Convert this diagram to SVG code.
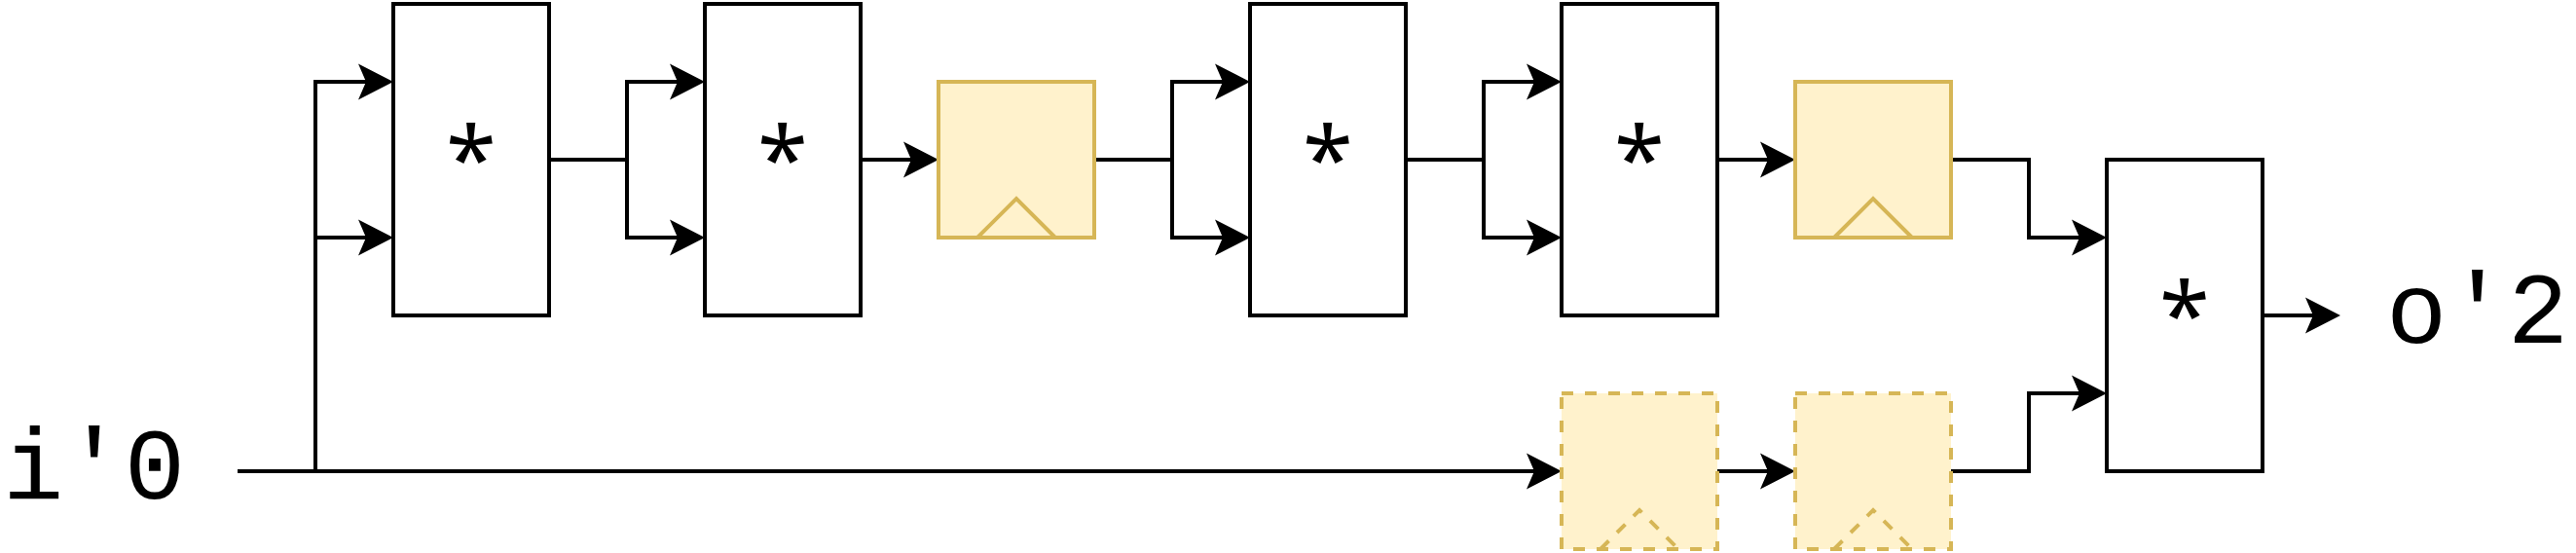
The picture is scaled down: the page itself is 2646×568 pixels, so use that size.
<svg xmlns="http://www.w3.org/2000/svg" width="2646" height="568" viewBox="0 0 2646 568">
<style>
.op{fill:#ffffff;stroke:#000000;stroke-width:4}
.reg{fill:#fff2cc;stroke:#d6b656;stroke-width:4}
.regd{fill:#fff2cc;stroke:#d6b656;stroke-width:4;stroke-dasharray:12 12}
.clk{fill:none;stroke:#d6b656;stroke-width:4}
.clkd{fill:none;stroke:#d6b656;stroke-width:4;stroke-dasharray:12 12}
.wa{fill:none;stroke:#000000;stroke-width:4;marker-end:url(#arr)}
.star{font-family:"Noto Sans",sans-serif;font-size:94px;text-anchor:middle;fill:#000}
.lbl{font-family:"Liberation Mono",monospace;font-size:104px;fill:#000}
</style>
<defs>
<marker id="arr" markerUnits="userSpaceOnUse" markerWidth="40" markerHeight="40" refX="8" refY="18.5" orient="auto" overflow="visible">
<path d="M0,0 L36,18.5 L0,37 L8,18.5 Z" fill="#000"/>
</marker>
</defs>
<g id="connectors">
<path class="wa" d="M244,484 H1576"/>
<path class="wa" d="M324,484 V84 H376"/>
<path class="wa" d="M324,244 H376"/>
<path class="wa" d="M564,164 H644 V84 H696"/>
<path class="wa" d="M644,164 V244 H696"/>
<path class="wa" d="M884,164 H936"/>
<path class="wa" d="M1124,164 H1204 V84 H1256"/>
<path class="wa" d="M1204,164 V244 H1256"/>
<path class="wa" d="M1444,164 H1524 V84 H1576"/>
<path class="wa" d="M1524,164 V244 H1576"/>
<path class="wa" d="M1764,164 H1816"/>
<path class="wa" d="M2004,164 H2084 V244 H2136"/>
<path class="wa" d="M1764,484 H1816"/>
<path class="wa" d="M2004,484 H2084 V404 H2136"/>
<path class="wa" d="M2324,324 H2376"/>
</g>
<g id="mul1"><rect class="op" x="404" y="4" width="160" height="320"/><text class="star" x="484" y="197">*</text></g>
<g id="mul2"><rect class="op" x="724" y="4" width="160" height="320"/><text class="star" x="804" y="197">*</text></g>
<g id="reg1"><rect class="reg" x="964" y="84" width="160" height="160"/><path class="clk" d="M1004,244 L1044,204 L1084,244"/></g>
<g id="mul3"><rect class="op" x="1284" y="4" width="160" height="320"/><text class="star" x="1364" y="197">*</text></g>
<g id="mul4"><rect class="op" x="1604" y="4" width="160" height="320"/><text class="star" x="1684" y="197">*</text></g>
<g id="reg2"><rect class="reg" x="1844" y="84" width="160" height="160"/><path class="clk" d="M1884,244 L1924,204 L1964,244"/></g>
<g id="reg3"><rect class="regd" x="1604" y="404" width="160" height="160"/><path class="clkd" d="M1644,564 L1684,524 L1724,564"/></g>
<g id="reg4"><rect class="regd" x="1844" y="404" width="160" height="160"/><path class="clkd" d="M1884,564 L1924,524 L1964,564"/></g>
<g id="mul5"><rect class="op" x="2164" y="164" width="160" height="320"/><text class="star" x="2244" y="357">*</text></g>
<g id="in"><text class="lbl" x="3" y="512">i'0</text></g>
<g id="out"><text class="lbl" x="2451" y="352">o'2</text></g>
</svg>
